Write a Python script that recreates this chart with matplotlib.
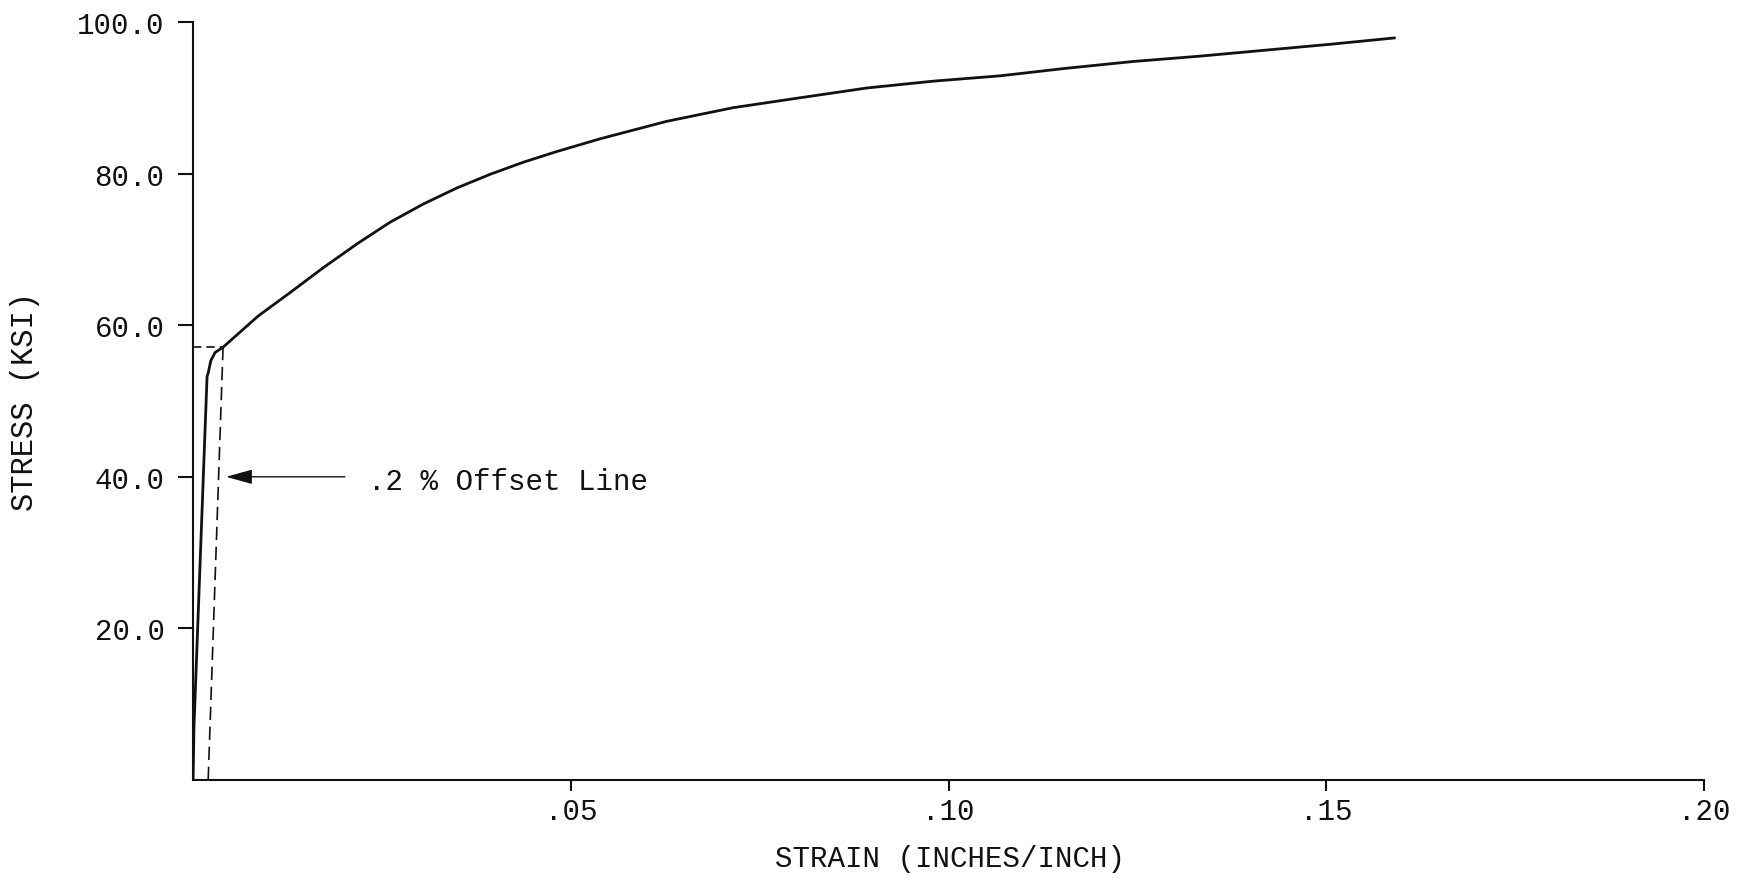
import matplotlib
matplotlib.use("Agg")
import matplotlib.pyplot as plt

# stress-strain curve
strain = [0.0, 0.00012, 0.00185, 0.00203, 0.00234, 0.00291, 0.00397, 0.0086,
          0.01284, 0.01725, 0.0218, 0.0261, 0.0305, 0.0349, 0.0393, 0.0437,
          0.0481, 0.0539, 0.0627, 0.0715, 0.0803, 0.0892, 0.0980, 0.1068,
          0.1156, 0.1245, 0.1333, 0.1421, 0.1509, 0.1590]
stress = [0.0, 7.0, 53.2, 53.8, 55.3, 56.4, 57.1, 61.2,
          64.3, 67.6, 70.8, 73.6, 76.0, 78.1, 79.9, 81.5,
          82.9, 84.6, 86.9, 88.7, 90.0, 91.3, 92.2, 92.9,
          93.9, 94.8, 95.5, 96.3, 97.1, 97.9]

# 0.2 % offset construction
offset_strain = [0.002, 0.00397]
offset_stress = [0.0, 57.1]
yield_strain = [0.0, 0.00397]
yield_stress = [57.1, 57.1]

x_ticks = [0.05, 0.10, 0.15, 0.20]
x_labels = [".05", ".10", ".15", ".20"]
y_ticks = [20, 40, 60, 80, 100]
y_labels = ["20.0", "40.0", "60.0", "80.0", "100.0"]

FONT = "Liberation Mono"
INK = "#111111"

fig = plt.figure(figsize=(17.52, 8.79), dpi=100)
ax = fig.add_axes([0.1102, 0.1115, 0.8624, 0.8623])

ax.plot(strain, stress, color=INK, lw=2.0, solid_joinstyle="round", zorder=3)
ax.plot(offset_strain, offset_stress, color=INK, lw=1.2, dashes=(8, 4), zorder=2)
ax.plot(yield_strain, yield_stress, color=INK, lw=1.2, dashes=(5, 3), zorder=2)

ax.annotate("", xy=(0.00437, 40.0), xytext=(0.0201, 40.0),
            arrowprops=dict(arrowstyle="-|>,head_length=0.9,head_width=0.25",
                            color=INK, lw=1.0, mutation_scale=18,
                            shrinkA=0, shrinkB=0))
ax.text(0.0232, 39.4, ".2 % Offset Line", fontsize=21, family=FONT,
        color=INK, ha="left", va="center")

ax.set_xlim(0, 0.20)
ax.set_ylim(0, 100)
ax.set_xticks(x_ticks)
ax.set_xticklabels(x_labels)
ax.set_yticks(y_ticks)
ax.set_yticklabels(y_labels)

for side in ("top", "right"):
    ax.spines[side].set_visible(False)
for side in ("left", "bottom"):
    ax.spines[side].set_linewidth(1.5)
    ax.spines[side].set_color(INK)

ax.tick_params(axis="y", direction="out", length=10.5, width=1.5, pad=10,
               labelsize=21, colors=INK)
ax.tick_params(axis="x", direction="out", length=8, width=1.5, pad=4,
               labelsize=21, colors=INK)
for lab in ax.get_xticklabels() + ax.get_yticklabels():
    lab.set_family(FONT)

fig.text(950 / 1752, 1 - 859 / 879, "STRAIN (INCHES/INCH)", fontsize=21,
         family=FONT, color=INK, ha="center", va="center")
fig.text(25 / 1752, 1 - 402 / 879, "STRESS (KSI)", fontsize=22,
         family=FONT, color=INK, ha="center", va="center", rotation=90)

fig.savefig("out.png", dpi=100)
plt.close(fig)
